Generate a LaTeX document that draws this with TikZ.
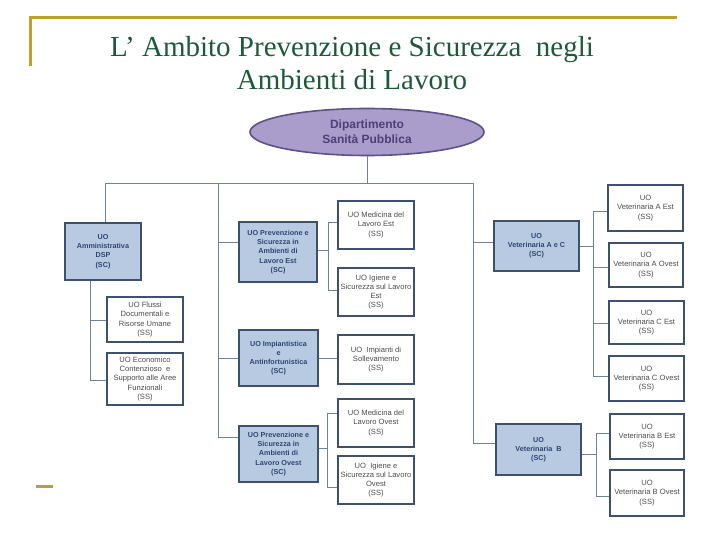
\documentclass[tikz,border=0pt]{standalone}
\usepackage{fontspec}
\setmainfont{Liberation Serif}
\newfontfamily\boxfont{Liberation Sans}
\usetikzlibrary{shapes.geometric}
\definecolor{gold}{HTML}{BE9E2E}
\definecolor{titlegreen}{HTML}{1D5A38}
\definecolor{boxborder}{HTML}{3D516E}
\definecolor{scfill}{HTML}{B8C9E2}
\definecolor{sctext}{HTML}{2E4670}
\definecolor{sstext}{HTML}{4C4C4C}
\definecolor{linecol}{HTML}{6C8494}
\definecolor{ellfill}{HTML}{AA9DCB}
\definecolor{elldraw}{HTML}{5E5088}
\definecolor{elltext}{HTML}{4E3F78}
\tikzset{
  unitbox/.style={draw=boxborder, line width=2.4pt, inner sep=0pt, align=center},
  scbox/.style={unitbox, fill=scfill, text=sctext, font=\boxfont\bfseries\fontsize{7.2}{9.2}\selectfont},
  ssbox/.style={unitbox, fill=white, text=sstext, font=\boxfont\fontsize{7.6}{9.2}\selectfont},
  conn/.style={draw=linecol, line width=0.9pt},
  goldline/.style={draw=gold, line width=3pt}
}
\newcommand\ubox[7]{\node[#1, minimum width={(#4-#2-2.4)*1pt}, minimum height={(#5-#3-2.4)*1pt}] (#6) at ({(#2+#4)/2},{(#3+#5)/2}) {#7};}
\begin{document}
\begin{tikzpicture}[x=1pt,y=-1pt]
\useasboundingbox (0,0) rectangle (720,540);
% gold frame lines
\draw[goldline] (30,66) -- (30,18) -- (677,18);
\draw[goldline] (36,486) -- (53,486);
% title
\node[anchor=base, text=titlegreen, font=\fontsize{29}{33}\selectfont, inner sep=0pt] (title1) at (352,57) {L’ Ambito Prevenzione e Sicurezza\ \ negli};
\node[anchor=base, text=titlegreen, font=\fontsize{29}{33}\selectfont, inner sep=0pt] (title2) at (352,90) {Ambienti di Lavoro};
% department ellipse
\node[ellipse, draw=elldraw, line width=1.6pt, fill=ellfill, minimum width=234pt, minimum height=47pt, inner sep=0pt, align=center, text=elltext, font=\boxfont\bfseries\fontsize{12}{15}\selectfont] (dip) at (367,132) {Dipartimento\\Sanità Pubblica};
% boxes
\ubox{scbox}{64}{222}{142}{281}{amm}{UO\\Amministrativa\\DSP\\(SC)}
\ubox{ssbox}{106}{296}{184}{343}{flussi}{UO Flussi\\Documentali e\\Risorse Umane\\(SS)}
\ubox{ssbox}{106}{352}{184}{406}{econ}{UO Economico\\Contenzioso\ \ e\\Supporto alle Aree\\Funzionali\\(SS)}
\ubox{scbox}{238}{221}{318}{283}{prevest}{UO Prevenzione e\\Sicurezza in\\Ambienti di\\Lavoro Est\\(SC)}
\ubox{scbox}{238}{329}{319}{387}{impiant}{UO Impiantistica\\e\\Antinfortunistica\\(SC)}
\ubox{scbox}{238}{425}{319}{483}{prevovest}{UO Prevenzione e\\Sicurezza in\\Ambienti di\\Lavoro Ovest\\(SC)}
\ubox{ssbox}{337}{200}{415}{250}{medest}{UO Medicina del\\Lavoro Est\\(SS)}
\ubox{ssbox}{337}{267}{415}{317}{igest}{UO Igiene e\\Sicurezza sul Lavoro\\Est\\(SS)}
\ubox{ssbox}{337}{334}{415}{385}{soll}{UO\ \ Impianti di\\Sollevamento\\(SS)}
\ubox{ssbox}{337}{398}{415}{448}{medov}{UO Medicina del\\Lavoro Ovest\\(SS)}
\ubox{ssbox}{337}{455}{415}{505}{igov}{UO\ \ Igiene e\\Sicurezza sul Lavoro\\Ovest\\(SS)}
\ubox{scbox}{493}{220}{580}{272}{vetac}{UO\\Veterinaria A e C\\(SC)}
\ubox{scbox}{495}{423}{582}{476}{vetb}{UO\\Veterinaria\ \ B\\(SC)}
\ubox{ssbox}{607}{184}{684}{232}{aest}{UO\\Veterinaria A Est\\(SS)}
\ubox{ssbox}{608}{242}{684}{288}{aov}{UO\\Veterinaria A Ovest\\(SS)}
\ubox{ssbox}{608}{300}{685}{345}{cest}{UO\\Veterinaria C Est\\(SS)}
\ubox{ssbox}{608}{355}{685}{402}{cov}{UO\\Veterinaria C Ovest\\(SS)}
\ubox{ssbox}{609}{413}{685}{460}{best}{UO\\Veterinaria B Est\\(SS)}
\ubox{ssbox}{609}{469}{685}{517}{bov}{UO\\Veterinaria B Ovest\\(SS)}
% junction coordinates
\coordinate (bus) at (367,183);
\coordinate (busL) at (105,183);
\coordinate (busM) at (218,183);
\coordinate (busR) at (473,183);
\coordinate (ammS) at (90,281);
\coordinate (j1) at (90,320);
\coordinate (j2) at (90,380);
\coordinate (m1) at (218,242);
\coordinate (m2) at (218,358);
\coordinate (m3) at (218,437);
\coordinate (e0) at (328,250);
\coordinate (e1) at (328,222);
\coordinate (e2) at (328,290);
\coordinate (o0) at (327,448);
\coordinate (o1) at (327,413);
\coordinate (o2) at (327,487);
\coordinate (r1) at (473,242);
\coordinate (r2) at (473,443);
\coordinate (a0) at (593,246);
\coordinate (a1) at (593,211);
\coordinate (a2) at (593,267);
\coordinate (a3) at (593,323);
\coordinate (a4) at (593,376);
\coordinate (b0) at (596,454);
\coordinate (b1) at (596,433);
\coordinate (b2) at (596,496);
% connectors
\draw[conn] (dip.south) -- (bus);
\draw[conn] (busL) -- (busR);
\draw[conn] (busL) -- (amm.north -| busL);
\draw[conn] (busM) -- (m3);
\draw[conn] (m1) -- (m1 -| prevest.west);
\draw[conn] (m2) -- (m2 -| impiant.west);
\draw[conn] (m3) -- (m3 -| prevovest.west);
\draw[conn] (ammS) -- (j2);
\draw[conn] (j1) -- (j1 -| flussi.west);
\draw[conn] (j2) -- (j2 -| econ.west);
\draw[conn] (e0 -| prevest.east) -- (e0);
\draw[conn] (e1) -- (e2);
\draw[conn] (e1) -- (e1 -| medest.west);
\draw[conn] (e2) -- (e2 -| igest.west);
\draw[conn] (impiant.east |- 0,358) -- (soll.west |- 0,358);
\draw[conn] (o0 -| prevovest.east) -- (o0);
\draw[conn] (o1) -- (o2);
\draw[conn] (o1) -- (o1 -| medov.west);
\draw[conn] (o2) -- (o2 -| igov.west);
\draw[conn] (busR) -- (r2);
\draw[conn] (r1) -- (r1 -| vetac.west);
\draw[conn] (r2) -- (r2 -| vetb.west);
\draw[conn] (a0 -| vetac.east) -- (a0);
\draw[conn] (a1) -- (a4);
\draw[conn] (a1) -- (a1 -| aest.west);
\draw[conn] (a2) -- (a2 -| aov.west);
\draw[conn] (a3) -- (a3 -| cest.west);
\draw[conn] (a4) -- (a4 -| cov.west);
\draw[conn] (b0 -| vetb.east) -- (b0);
\draw[conn] (b1) -- (b2);
\draw[conn] (b1) -- (b1 -| best.west);
\draw[conn] (b2) -- (b2 -| bov.west);
\end{tikzpicture}
\end{document}
